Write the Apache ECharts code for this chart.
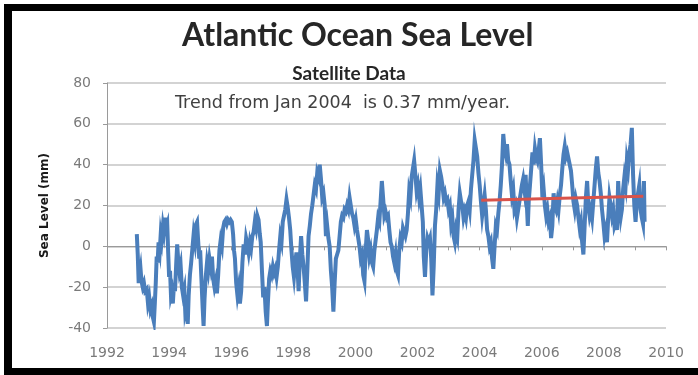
<!DOCTYPE html>
<html>
<head>
<meta charset="utf-8">
<script src="https://cdn.jsdelivr.net/npm/echarts@6/dist/echarts.min.js"></script>
<style>
html,body{margin:0;padding:0;background:#fff;}
#chart{width:698px;height:375px;}
</style>
</head>
<body>
<div id="chart"></div>
<script>
// Tick labels
var xTicks = [1992, 1994, 1996, 1998, 2000, 2002, 2004, 2006, 2008, 2010];
var yTicks = [-40, -20, 0, 20, 40, 60, 80];

// Satellite sea level (year, mm)
var seaLevel = [
[1992.96,6],[1992.99,-4],[1993.02,-18],[1993.05,-14],[1993.08,-11],[1993.11,-17],[1993.15,-20],[1993.19,-18],[1993.23,-22],[1993.28,-21],
[1993.32,-28],[1993.36,-25],[1993.40,-31],[1993.44,-29],[1993.48,-35],[1993.51,-37],[1993.54,-28],[1993.57,-18],[1993.60,-5],[1993.63,-8],
[1993.66,2],[1993.70,-2],[1993.73,6],[1993.76,3],[1993.80,10],[1993.83,7],[1993.87,14],[1993.90,9],[1993.94,11],[1993.97,-3],
[1994.00,-15],[1994.03,-12],[1994.06,-24],[1994.09,-22],[1994.12,-28],[1994.16,-18],[1994.19,-22],[1994.23,-8],[1994.26,1],[1994.29,-6],
[1994.33,-12],[1994.37,-9],[1994.41,-20],[1994.45,-24],[1994.49,-21],[1994.52,-32],[1994.56,-29],[1994.60,-38],[1994.63,-24],[1994.67,-14],
[1994.71,-8],[1994.75,-1],[1994.79,6],[1994.83,2],[1994.87,11],[1994.90,12],[1994.93,4],[1994.97,-6],[1995.00,-2],[1995.04,-16],
[1995.08,-30],[1995.11,-39],[1995.14,-26],[1995.18,-15],[1995.22,-8],[1995.26,-12],[1995.30,-6],[1995.34,-10],[1995.38,-5],[1995.42,-16],
[1995.46,-20],[1995.50,-17],[1995.54,-23],[1995.58,-14],[1995.62,-2],[1995.66,3],[1995.70,0],[1995.74,9],[1995.78,12],[1995.82,13],
[1995.86,11],[1995.90,13],[1995.94,12],[1995.98,13],[1996.02,12],[1996.06,6],[1996.09,-2],[1996.12,-6],[1996.16,-18],[1996.20,-24],
[1996.24,-20],[1996.28,-28],[1996.32,-22],[1996.36,-8],[1996.40,1],[1996.44,-4],[1996.48,4],[1996.52,1],[1996.56,-3],[1996.60,2],
[1996.64,-1],[1996.68,5],[1996.72,7],[1996.76,12],[1996.80,9],[1996.84,15],[1996.88,13],[1996.92,6],[1996.95,2],[1996.99,-12],
[1997.03,-25],[1997.07,-20],[1997.11,-32],[1997.15,-39],[1997.18,-28],[1997.22,-16],[1997.26,-12],[1997.30,-14],[1997.34,-10],[1997.38,-13],
[1997.42,-11],[1997.46,-15],[1997.50,-10],[1997.54,-2],[1997.58,5],[1997.62,2],[1997.66,12],[1997.70,15],[1997.74,18],[1997.78,23],
[1997.82,19],[1997.86,14],[1997.90,8],[1997.94,-2],[1997.98,-10],[1998.02,-15],[1998.06,-8],[1998.10,-3],[1998.13,-9],[1998.17,-22],
[1998.21,-6],[1998.25,5],[1998.29,-4],[1998.33,-10],[1998.37,-18],[1998.41,-27],[1998.45,-12],[1998.49,5],[1998.53,10],[1998.57,16],
[1998.61,20],[1998.65,25],[1998.69,30],[1998.73,28],[1998.77,36],[1998.81,34],[1998.85,40],[1998.89,33],[1998.93,24],[1998.97,26],
[1999.01,20],[1999.05,5],[1999.09,10],[1999.13,4],[1999.17,0],[1999.21,-12],[1999.25,-20],[1999.29,-32],[1999.33,-18],[1999.37,-6],
[1999.41,-4],[1999.45,-2],[1999.49,5],[1999.53,12],[1999.57,15],[1999.61,14],[1999.65,18],[1999.69,17],[1999.73,20],[1999.77,18],
[1999.81,24],[1999.85,20],[1999.89,16],[1999.93,14],[1999.97,10],[2000.01,13],[2000.05,8],[2000.09,4],[2000.13,0],[2000.17,-6],
[2000.21,-4],[2000.25,-14],[2000.29,-17],[2000.33,-2],[2000.37,8],[2000.41,3],[2000.45,-5],[2000.49,-2],[2000.53,-8],[2000.57,-10],
[2000.61,-2],[2000.65,3],[2000.69,8],[2000.73,14],[2000.77,12],[2000.81,22],[2000.85,32],[2000.89,24],[2000.93,15],[2000.97,17],
[2001.01,14],[2001.05,15],[2001.09,8],[2001.13,2],[2001.17,0],[2001.21,-5],[2001.25,-8],[2001.29,-4],[2001.33,-12],[2001.37,-14],
[2001.41,-2],[2001.45,4],[2001.49,2],[2001.53,9],[2001.57,7],[2001.61,5],[2001.65,8],[2001.69,16],[2001.73,27],[2001.77,24],
[2001.81,34],[2001.85,38],[2001.89,42],[2001.93,35],[2001.97,27],[2002.01,30],[2002.05,24],[2002.09,28],[2002.13,20],[2002.17,12],
[2002.20,-5],[2002.24,-15],[2002.28,-2],[2002.32,4],[2002.36,2],[2002.40,4],[2002.44,-6],[2002.48,-24],[2002.52,-10],[2002.56,10],
[2002.60,18],[2002.64,30],[2002.68,26],[2002.72,37],[2002.76,34],[2002.80,30],[2002.84,24],[2002.88,26],[2002.92,22],[2002.96,23],
[2003.00,18],[2003.04,20],[2003.08,11],[2003.12,14],[2003.16,5],[2003.20,2],[2003.24,8],[2003.28,5],[2003.32,18],[2003.36,26],
[2003.40,22],[2003.44,20],[2003.48,14],[2003.52,17],[2003.56,14],[2003.60,20],[2003.64,22],[2003.68,18],[2003.72,28],[2003.76,35],
[2003.80,42],[2003.84,52],[2003.88,48],[2003.92,44],[2003.96,36],[2004.00,30],[2004.04,22],[2004.08,15],[2004.12,20],[2004.16,25],
[2004.20,18],[2004.24,8],[2004.28,5],[2004.32,0],[2004.36,2],[2004.40,-6],[2004.44,-11],[2004.48,0],[2004.52,10],[2004.56,8],
[2004.60,16],[2004.64,22],[2004.68,30],[2004.72,40],[2004.76,55],[2004.80,48],[2004.84,45],[2004.88,50],[2004.92,42],[2004.96,40],
[2005.00,32],[2005.04,25],[2005.08,28],[2005.12,18],[2005.16,20],[2005.20,14],[2005.24,18],[2005.28,22],[2005.32,26],[2005.36,30],
[2005.40,33],[2005.44,28],[2005.48,35],[2005.52,20],[2005.55,10],[2005.58,22],[2005.62,30],[2005.66,38],[2005.70,46],[2005.74,40],
[2005.78,48],[2005.82,44],[2005.86,42],[2005.90,47],[2005.94,53],[2005.98,40],[2006.02,24],[2006.06,28],[2006.10,20],[2006.14,15],
[2006.18,18],[2006.22,12],[2006.26,14],[2006.30,4],[2006.34,10],[2006.38,26],[2006.42,20],[2006.46,18],[2006.50,22],[2006.54,18],
[2006.58,25],[2006.62,30],[2006.66,38],[2006.70,45],[2006.74,49],[2006.78,44],[2006.82,46],[2006.86,43],[2006.90,40],[2006.94,37],
[2006.98,30],[2007.02,22],[2007.06,18],[2007.10,23],[2007.14,20],[2007.18,14],[2007.22,9],[2007.26,12],[2007.30,2],[2007.34,-4],
[2007.38,10],[2007.42,24],[2007.46,32],[2007.50,20],[2007.54,15],[2007.58,18],[2007.62,14],[2007.66,22],[2007.70,30],[2007.74,38],
[2007.78,44],[2007.82,36],[2007.86,32],[2007.90,26],[2007.94,18],[2007.98,12],[2008.02,5],[2008.06,8],[2008.10,2],[2008.14,14],
[2008.18,24],[2008.22,20],[2008.26,15],[2008.30,18],[2008.34,10],[2008.38,12],[2008.42,8],[2008.46,32],[2008.50,20],[2008.54,14],
[2008.58,18],[2008.62,28],[2008.66,34],[2008.70,30],[2008.74,42],[2008.78,38],[2008.82,46],[2008.86,50],[2008.90,58],[2008.94,35],
[2008.98,20],[2009.02,12],[2009.06,22],[2009.10,26],[2009.14,30],[2009.18,18],[2009.22,14],[2009.26,11],[2009.29,32],[2009.31,12]
];

// Linear trend from Jan 2004 (0.37 mm/year)
var trendLine = [[2004.05, 22.6], [2009.27, 24.5]];

var titleText = 'Atlantic Ocean Sea Level';
var subtitleText = 'Satellite Data';
var noteText = 'Trend from Jan 2004  is 0.37 mm/year.';
var yName = 'Sea Level (mm)';

var chart = echarts.init(document.getElementById('chart'), null, {renderer: 'canvas'});
chart.setOption({
  animation: false,
  backgroundColor: '#ffffff',
  title: [
    {text: titleText, left: 177, top: 15,
     textStyle: {fontFamily: 'Lato', fontSize: 32, fontWeight: 'bold', color: '#262626'}},
    {text: subtitleText, left: 'center', top: 59,
     textStyle: {fontFamily: 'Lato', fontSize: 19, fontWeight: 'bold', color: '#262626'}}
  ],
  graphic: [
    {type: 'rect', shape: {x: 4, y: 4, width: 694, height: 7}, style: {fill: '#000'}, z: 100},
    {type: 'rect', shape: {x: 4, y: 4, width: 8, height: 371}, style: {fill: '#000'}, z: 100},
    {type: 'rect', shape: {x: 4, y: 368, width: 694, height: 7}, style: {fill: '#000'}, z: 100},
    {type: 'text', left: 175, top: 94,
     style: {text: noteText, font: '17.5px "DejaVu Sans"', fill: '#404040'}, z: 50}
  ],
  grid: {left: 107, right: 32, top: 83, bottom: 47, containLabel: false},
  xAxis: {
    type: 'value', min: xTicks[0], max: xTicks[xTicks.length - 1], interval: 2,
    axisLine: {show: true, lineStyle: {color: '#9a9a9a', width: 1}},
    axisTick: {show: true, length: 4, lineStyle: {color: '#9a9a9a'}},
    minorTick: {show: true, splitNumber: 2, length: 4, lineStyle: {color: '#9a9a9a'}},
    splitLine: {show: false},
    axisLabel: {margin: 18, fontFamily: 'DejaVu Sans', fontSize: 14, color: '#7a7a7a',
                formatter: function (v) { return String(Math.round(v)); }}
  },
  yAxis: {
    type: 'value', min: yTicks[0], max: yTicks[yTicks.length - 1], interval: 20,
    name: yName, nameLocation: 'middle', nameRotate: 90, nameGap: 56,
    nameTextStyle: {fontFamily: 'DejaVu Sans', fontSize: 12, fontWeight: 'bold', color: '#1a1a1a'},
    axisLine: {show: true, lineStyle: {color: '#9a9a9a', width: 1}},
    axisTick: {show: true, length: 4, lineStyle: {color: '#9a9a9a'}},
    splitLine: {show: true, lineStyle: {color: '#c4c4c4', width: 1.5}},
    axisLabel: {margin: 16, fontFamily: 'DejaVu Sans', fontSize: 14, color: '#7a7a7a'}
  },
  series: [
    {type: 'line', data: seaLevel, showSymbol: false, symbol: 'none',
     lineStyle: {color: '#4a7ebb', width: 4, join: 'miter'}, z: 2},
    {type: 'line', data: trendLine, showSymbol: false, symbol: 'none',
     lineStyle: {color: '#d9534a', width: 3}, z: 3}
  ]
});
</script>
</body>
</html>
